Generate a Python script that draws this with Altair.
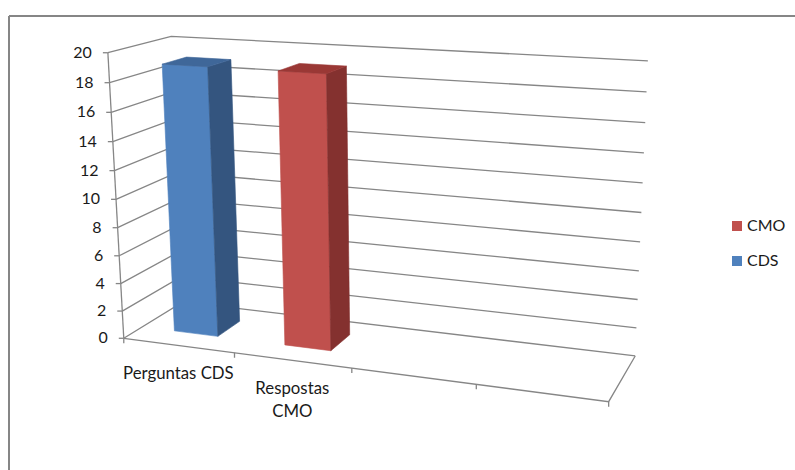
import itertools

import altair as alt
import numpy as np
import pandas as pd

# ---- data -----------------------------------------------------------------
categories = ["Perguntas CDS", "Respostas CMO", "", ""]
category_labels = ["Perguntas CDS", "Respostas\nCMO", "", ""]
series_names = ["CDS", "CMO"]
values_cds = [19, None, None, None]
values_cmo = [None, 19, None, None]
y_ticks = [0, 2, 4, 6, 8, 10, 12, 14, 16, 18, 20]
y_max = 20

# ---- page and 3-D view ----------------------------------------------------
W, H = 795, 470
FONT = "Lato"
LINE = "#868686"

# Camera of the 3-D plot box: box corners (category, value, depth in 0..1)
# and where they sit on the page; a projective camera is fitted to them.
box_world = [(0, 0, 0), (0, 1, 0), (0, 1, 1), (1, 1, 1), (1, 0, 1),
             (1, 0, 0), (0, 0, 1), (0.25, 0, 0), (0.5, 0, 0), (0.75, 0, 0)]
box_page = [(123, 336), (109, 53), (170, 36), (648, 61), (635, 355),
            (609, 401), (184, 303), (234, 353), (352, 370), (476, 385)]


def fit_camera(world, page):
    rows = []
    for (X, Y, Z), (u, v) in zip(world, page):
        u, v = u / 100.0, v / 100.0
        P = [X, Y, Z, 1.0]
        rows.append(P + [0.0] * 4 + [-u * c for c in P])
        rows.append([0.0] * 4 + P + [-v * c for c in P])
    _, _, vt = np.linalg.svd(np.array(rows))
    return vt[-1].reshape(3, 4)


CAM = fit_camera(box_world, box_page)


def project(x, y, z):
    h = CAM @ np.array([x, y, z, 1.0])
    return 100.0 * h[0] / h[2], 100.0 * h[1] / h[2]


_pid = itertools.count()


def path(pts, **extra):
    pid = next(_pid)
    out = []
    for i, (x, y, z) in enumerate(pts):
        px, py = project(x, y, z)
        out.append(dict(pid=pid, ord=i, px=px, py=py, **extra))
    return out


n_cat = len(categories)
cw = 1.0 / n_cat
gap_width, gap_depth = 1.5, 1.5
bw = cw / (1 + gap_width)
bd = 1.0 / (1 + gap_depth)
z0, z1 = (1 - bd) / 2, (1 + bd) / 2

# walls: gridlines on the side and back walls, floor edges, value axis
grid = []
for t in y_ticks:
    v = t / y_max
    grid += path([(0, v, 0), (0, v, 1), (1, v, 1)])
grid += path([(0, 0, 0), (1, 0, 0), (1, 0, 1)])
grid += path([(0, 0, 0), (0, 1, 0)])

ticks = []
for t in y_ticks:
    px, py = project(0, t / y_max, 0)
    ticks.append(dict(x=px - 5, y=py, x2=px, y2=py))
for i in range(n_cat + 1):
    px, py = project(i * cw, 0, 0)
    ticks.append(dict(x=px, y=py, x2=px, y2=py + 5))

y_labels = []
for t in y_ticks:
    px, py = project(0, t / y_max, 0)
    y_labels.append(dict(px=px - 16, py=py, text=str(t)))

cat_labels = []
for i, lab in enumerate(category_labels):
    if lab:
        px, py = project((i + 0.5) * cw, 0, 0)
        cat_labels.append(dict(px=px, py=py + 34, text=lab))

# bar faces: front, right side and top of each column
shades = {
    "CDS": {"front": "#4F81BD", "side": "#34557F", "top": "#3F6799"},
    "CMO": {"front": "#C0504D", "side": "#84312F", "top": "#9A3835"},
}
faces = []
for s, vals in zip(series_names, [values_cds, values_cmo]):
    for i, val in enumerate(vals):
        if val is None:
            continue
        x0 = (i + 0.5) * cw - bw / 2
        x1 = x0 + bw
        h = val / y_max
        faces += path([(x0, 0, z0), (x1, 0, z0), (x1, h, z0), (x0, h, z0), (x0, 0, z0)],
                      color=shades[s]["front"])
        faces += path([(x1, 0, z0), (x1, 0, z1), (x1, h, z1), (x1, h, z0), (x1, 0, z0)],
                      color=shades[s]["side"])
        faces += path([(x0, h, z0), (x1, h, z0), (x1, h, z1), (x0, h, z1), (x0, h, z0)],
                      color=shades[s]["top"])

# legend, series listed in reverse order
legend_x, legend_y0, legend_step = 737, 226, 35
legend = [dict(px=legend_x, py=legend_y0 + k * legend_step, name=s, color=shades[s]["front"])
          for k, s in enumerate(reversed(series_names))]

# frame of the chart area
frame = [dict(x=9, y=16, x2=9, y2=H + 5), dict(x=9, y=16, x2=W + 5, y2=16)]

xs = alt.Scale(domain=[0, W], nice=False, zero=False)
ys = alt.Scale(domain=[0, H], reverse=True, nice=False, zero=False)


def X(f):
    return alt.X(f, type="quantitative", scale=xs, axis=None)


def Y(f):
    return alt.Y(f, type="quantitative", scale=ys, axis=None)


frame_layer = alt.Chart(pd.DataFrame(frame)).mark_rule(color=LINE, strokeWidth=2).encode(
    x=X("x"), y=Y("y"), x2="x2", y2="y2")

grid_layer = alt.Chart(pd.DataFrame(grid)).mark_line(color=LINE, strokeWidth=1.3).encode(
    x=X("px"), y=Y("py"), detail="pid:N", order="ord:Q")

tick_layer = alt.Chart(pd.DataFrame(ticks)).mark_rule(color=LINE, strokeWidth=1.3).encode(
    x=X("x"), y=Y("y"), x2="x2", y2="y2")

face_layer = alt.Chart(pd.DataFrame(faces)).mark_line(strokeWidth=0.6, strokeJoin="round").encode(
    x=X("px"), y=Y("py"), detail="pid:N", order="ord:Q",
    fill=alt.Fill("color:N", scale=None), stroke=alt.Stroke("color:N", scale=None))

ylab_layer = alt.Chart(pd.DataFrame(y_labels)).mark_text(
    align="right", baseline="middle", font=FONT, fontSize=16, color="#1a1a1a").encode(
    x=X("px"), y=Y("py"), text="text:N")

cat_layer = alt.Chart(pd.DataFrame(cat_labels)).mark_text(
    align="center", baseline="alphabetic", font=FONT, fontSize=16.8, color="#1a1a1a",
    lineBreak="\n", lineHeight=23).encode(
    x=X("px"), y=Y("py"), text="text:N")

leg_sq = alt.Chart(pd.DataFrame(legend)).mark_square(size=100, opacity=1).encode(
    x=X("px"), y=Y("py"), fill=alt.Fill("color:N", scale=None))

leg_txt = alt.Chart(pd.DataFrame(legend)).mark_text(
    align="left", baseline="middle", font=FONT, fontSize=16, color="#1a1a1a", dx=10).encode(
    x=X("px"), y=Y("py"), text="name:N")

chart = alt.layer(
    frame_layer, grid_layer, tick_layer, face_layer, ylab_layer, cat_layer, leg_sq, leg_txt
).properties(
    width=W, height=H, padding=0, autosize=alt.AutoSizeParams(type="none"),
    background="white",
).configure_view(stroke=None)

chart.save("out.html", embed_options={"renderer": "svg", "actions": False})
